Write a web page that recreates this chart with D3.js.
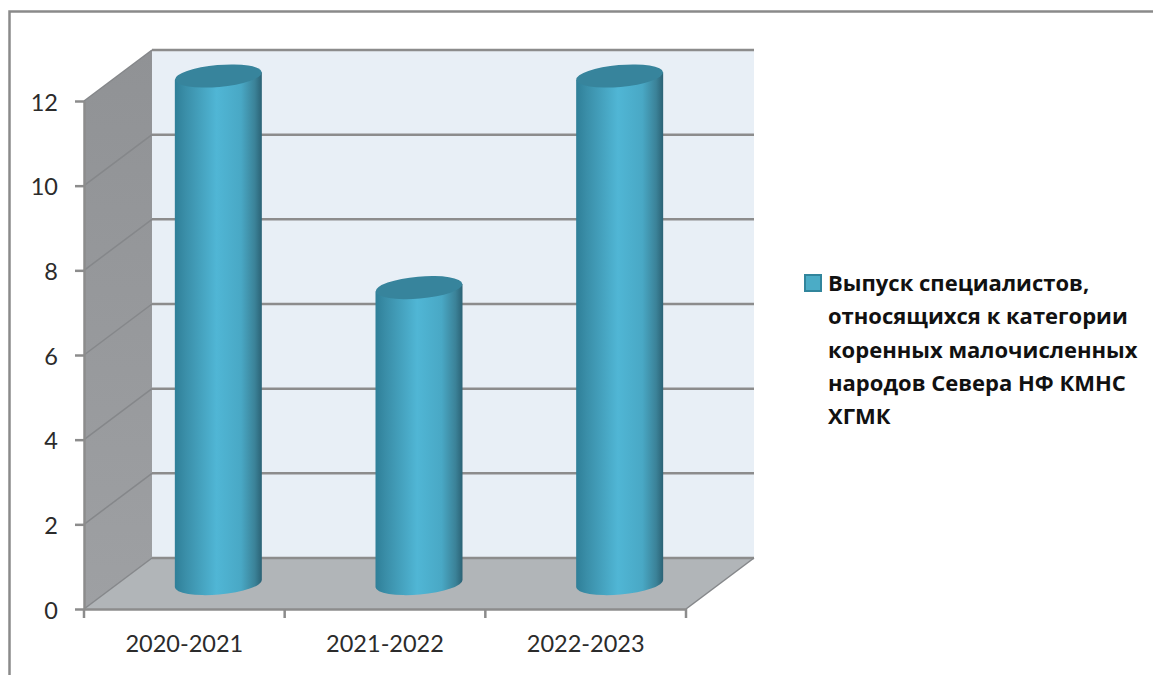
<!doctype html>
<html lang="ru">
<head>
<meta charset="utf-8">
<script src="https://d3js.org/d3.v7.min.js"></script>
<style>
  html, body { margin: 0; padding: 0; background: #fff; }
  svg { display: block; }
  .axis text { font-family: Lato, "Open Sans", sans-serif; font-size: 23.5px; fill: #2b2b2b; }
  .axis line, .axis path { stroke: #8c8c8c; stroke-width: 2.5; }
  .grid { stroke: #8c8c8c; stroke-width: 2.5; fill: none; }
  .grid-side { stroke: #85878a; stroke-width: 1.5; fill: none; }
  .legend text { font-family: "Open Sans", sans-serif; font-weight: 700; font-size: 22px; fill: #111; }
</style>
</head>
<body>
<div id="chart"></div>
<script>
  const categories = ["2020-2021", "2021-2022", "2022-2023"];
  const values = [12, 7, 12];
  const yTicks = [0, 2, 4, 6, 8, 10, 12];
  const legendLines = [
    "Выпуск специалистов,",
    "относящихся к категории",
    "коренных малочисленных",
    "народов Севера НФ КМНС",
    "ХГМК"
  ];

  const width = 1153, height = 675;
  const depth = {x: 68, y: -51};   // 3d offset of the back wall
  const cylWidth = 87;

  const svg = d3.select("#chart").append("svg")
      .attr("width", width).attr("height", height);

  const xScale = d3.scaleBand().domain(categories).range([84, 686]);
  const yScale = d3.scaleLinear().domain([0, 12]).range([609, 101]);

  // outer frame
  svg.append("path")
     .attr("d", `M9.5,${height}V11.5H${width}`)
     .attr("fill", "none").attr("stroke", "#8a8a8a").attr("stroke-width", 2.5);

  const x0 = xScale.range()[0], x1 = xScale.range()[1];
  const yBase = yScale(0), yTop = yScale(12);
  const poly = pts => "M" + pts.map(p => p.join(",")).join("L") + "Z";

  const defs = svg.append("defs");
  const grad = defs.append("linearGradient").attr("id", "cyl");
  [[0, "#2f7f98"], [0.12, "#3a8ea8"], [0.48, "#50b6d5"], [0.76, "#49a8c5"], [0.92, "#3b8298"], [1, "#2b6275"]]
    .forEach(s => grad.append("stop").attr("offset", s[0]).attr("stop-color", s[1]));
  const wallGrad = defs.append("linearGradient").attr("id", "wall")
      .attr("x1", 0).attr("x2", 0).attr("y1", 0).attr("y2", 1);
  wallGrad.append("stop").attr("offset", 0).attr("stop-color", "#909295");
  wallGrad.append("stop").attr("offset", 1).attr("stop-color", "#9ea0a3");

  // back wall, side wall, floor
  svg.append("path").attr("fill", "#e8eff6")
     .attr("d", poly([[x0 + depth.x, yTop + depth.y], [x1 + depth.x, yTop + depth.y],
                      [x1 + depth.x, yBase + depth.y], [x0 + depth.x, yBase + depth.y]]));
  svg.append("path").attr("fill", "url(#wall)")
     .attr("d", poly([[x0, yTop], [x0 + depth.x, yTop + depth.y],
                      [x0 + depth.x, yBase + depth.y], [x0, yBase]]));
  svg.append("path").attr("fill", "#b1b5b8")
     .attr("d", poly([[x0, yBase], [x1, yBase], [x1 + depth.x, yBase + depth.y], [x0 + depth.x, yBase + depth.y]]));

  // gridlines
  svg.selectAll(".grid-back").data(yTicks).join("line")
     .attr("class", "grid")
     .attr("x1", x0 + depth.x).attr("x2", x1 + depth.x)
     .attr("y1", d => yScale(d) + depth.y).attr("y2", d => yScale(d) + depth.y);
  svg.selectAll(".grid-side").data(yTicks).join("line")
     .attr("class", "grid-side")
     .attr("x1", x0).attr("x2", x0 + depth.x)
     .attr("y1", d => yScale(d)).attr("y2", d => yScale(d) + depth.y);
  svg.append("line").attr("class", "grid-side")
     .attr("x1", x1).attr("x2", x1 + depth.x)
     .attr("y1", yBase).attr("y2", yBase + depth.y)
     .attr("stroke-width", 2.5);

  // axes
  const yAxis = svg.append("g").attr("class", "axis")
     .attr("transform", `translate(${x0},0)`)
     .call(d3.axisLeft(yScale).tickValues(yTicks).tickSize(9).tickPadding(17).tickSizeOuter(0));
  yAxis.selectAll("text").attr("y", 1.5);
  const xAxis = svg.append("g").attr("class", "axis")
     .attr("transform", `translate(0,${yBase})`)
     .call(d3.axisBottom(xScale).tickSize(0).tickPadding(26));
  xAxis.selectAll("g.tick").attr("transform", d => `translate(${xScale(d) + xScale.bandwidth() / 2},0)`);
  xAxis.selectAll(".boundary").data([...categories.map(c => xScale(c)), x1]).join("line")
     .attr("class", "boundary").attr("x1", d => d).attr("x2", d => d).attr("y1", 0).attr("y2", 9);

  // cylinders sit half way into the depth
  const rx = cylWidth / 2, ry = 11, tilt = -5;
  const lift = Math.sin(tilt * Math.PI / 180) * rx;
  const bars = svg.selectAll(".bar").data(values).join("g").attr("class", "bar")
     .attr("transform", (d, i) =>
        `translate(${xScale(categories[i]) + xScale.bandwidth() / 2 + depth.x / 2},0)`);

  bars.append("path")
     .attr("fill", "url(#cyl)")
     .attr("d", d => {
        const top = yScale(d) + depth.y / 2 + 0.5, bot = yScale(0) + depth.y / 2;
        return `M${-rx},${top - lift}L${rx},${top + lift}L${rx},${bot + lift}` +
               `A${rx},${ry} ${tilt} 0 1 ${-rx},${bot - lift}Z`;
     });
  bars.append("ellipse")
     .attr("rx", rx).attr("ry", ry).attr("fill", "#37849c")
     .attr("transform", d => `translate(0,${yScale(d) + depth.y / 2 + 0.5}) rotate(${tilt})`);

  // legend
  const legend = svg.append("g").attr("class", "legend");
  legend.append("rect")
     .attr("x", 805).attr("y", 275).attr("width", 16).attr("height", 16)
     .attr("fill", "#4bacc6").attr("stroke", "#31859c").attr("stroke-width", 2);
  legend.selectAll("text").data(legendLines).join("text")
     .attr("x", 828).attr("y", (d, i) => 291 + i * 33.3)
     .text(d => d);
</script>
</body>
</html>
